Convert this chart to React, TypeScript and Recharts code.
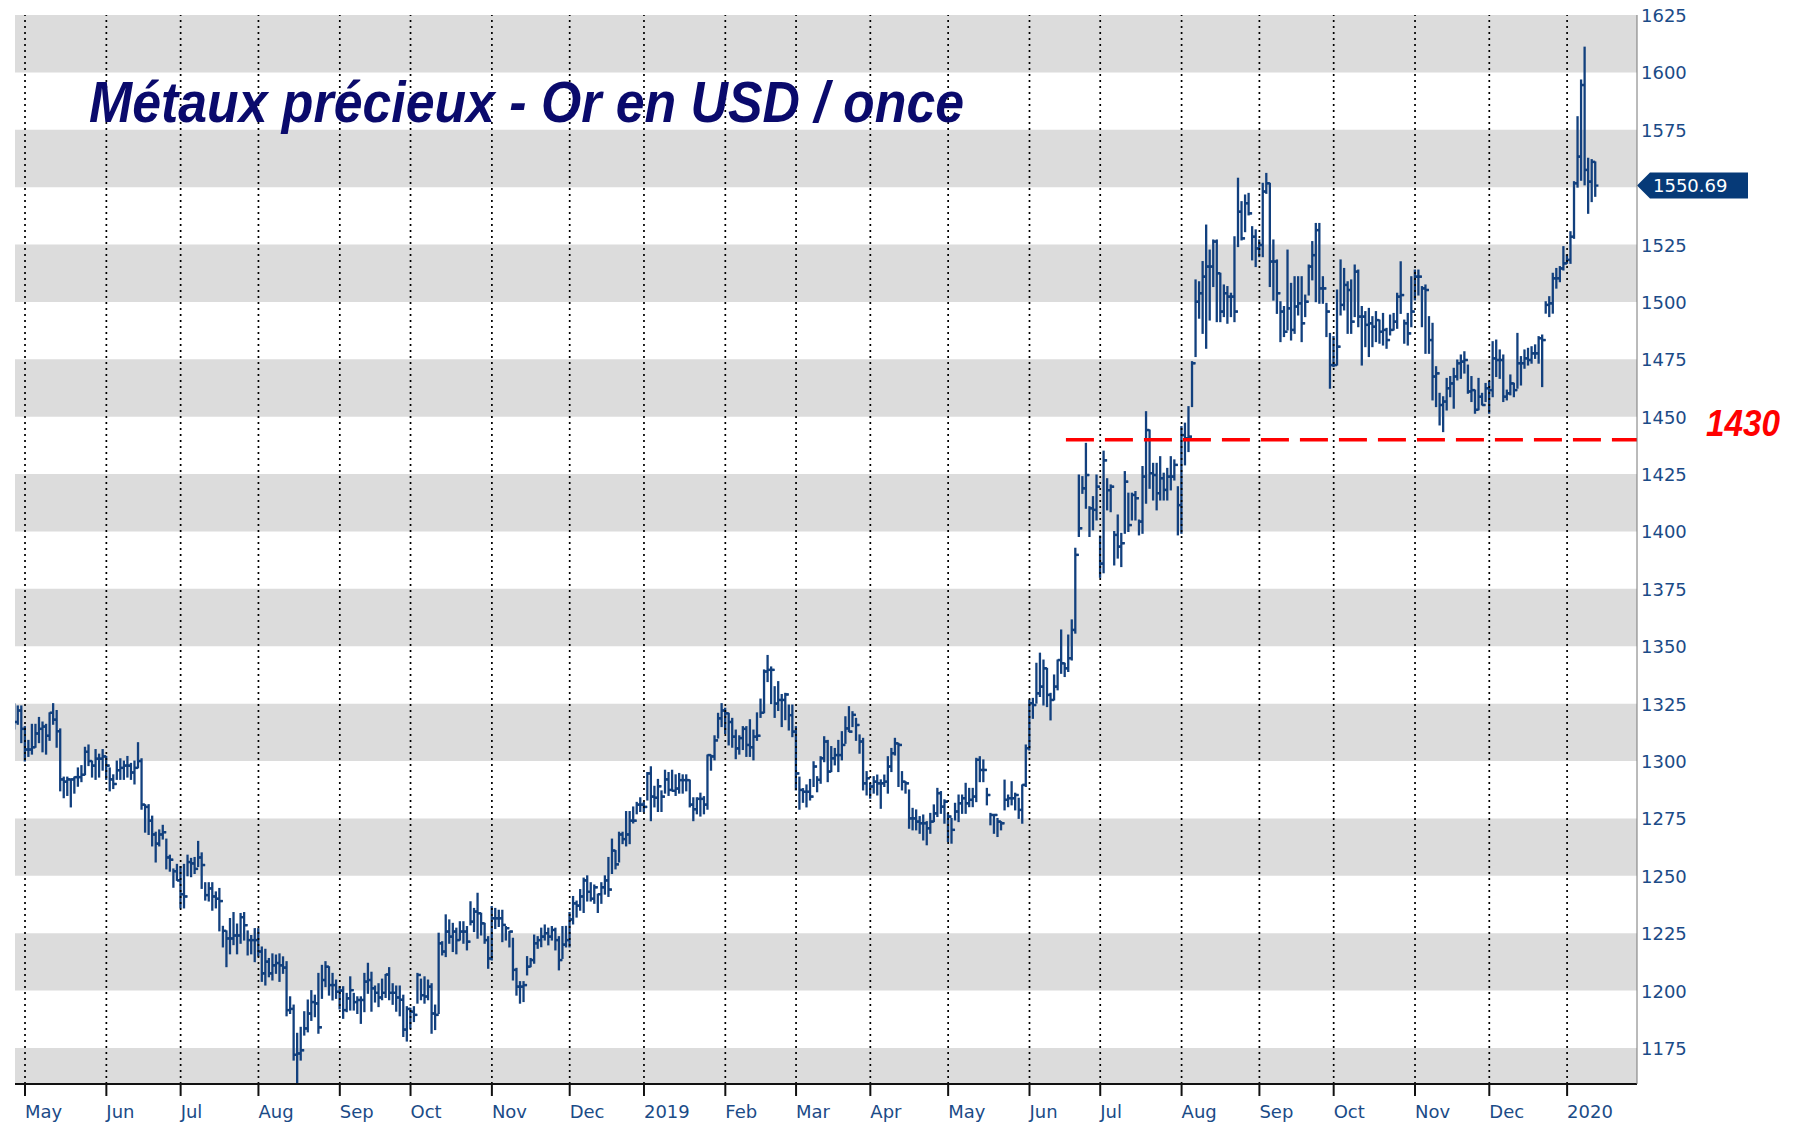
import React from 'react';
import { ComposedChart, Bar, XAxis, YAxis, ReferenceArea, ReferenceLine } from 'recharts';

// one entry per weekday: [low, high, close]
type Day = [number, number, number];

const apr2018: Day[] = [[1314, 1325, 1317], [1316, 1324, 1322], [1308, 1324, 1314]];
const may2018: Day[] = [
  [1300, 1315, 1305], [1302, 1309, 1305], [1303, 1316, 1306], [1306, 1316, 1312], [1308, 1319, 1314],
  [1304, 1317, 1315], [1303, 1316, 1311], [1309, 1321, 1321], [1316, 1325, 1318], [1306, 1322, 1313],
  [1287, 1314, 1292], [1284, 1293, 1291], [1285, 1293, 1292], [1280, 1292, 1292], [1286, 1293, 1293],
  [1289, 1297, 1293], [1291, 1298, 1294], [1294, 1306, 1304], [1298, 1307, 1300], [1293, 1300, 1298],
  [1292, 1305, 1301], [1293, 1303, 1301], [1296, 1305, 1302],
];
const jun2018: Day[] = [
  [1292, 1302, 1298], [1287, 1297, 1292], [1288, 1294, 1290], [1292, 1300, 1296], [1292, 1301, 1297],
  [1292, 1300, 1298], [1293, 1302, 1298], [1292, 1299, 1295], [1290, 1300, 1297], [1297, 1308, 1300],
  [1279, 1301, 1281], [1269, 1281, 1280], [1268, 1281, 1274], [1263, 1276, 1268], [1256, 1269, 1264],
  [1263, 1270, 1268], [1266, 1272, 1269], [1253, 1266, 1258], [1252, 1259, 1257], [1245, 1253, 1252],
  [1248, 1255, 1248],
];
const jul2018: Day[] = [
  [1236, 1254, 1242], [1236, 1255, 1241], [1250, 1259, 1256], [1249.6, 1257.6, 1255.4], [1251, 1258, 1253],
  [1254, 1265, 1258], [1244.5, 1260, 1254.7], [1239.4, 1247, 1241.6], [1239, 1247, 1244.5], [1235, 1247, 1241],
  [1236, 1243, 1240], [1226, 1244.5, 1239], [1219, 1228, 1226], [1210.4, 1226, 1222.7], [1216, 1231.4, 1222.7],
  [1220, 1234, 1224], [1216, 1229, 1224], [1220.6, 1233.6, 1232], [1222, 1234, 1228.5], [1215.5, 1226, 1222],
  [1216, 1224, 1222], [1212.6, 1227, 1222],
];
const aug2018: Day[] = [
  [1215, 1227, 1217], [1204, 1219, 1207.5], [1202.4, 1218, 1212.6], [1206, 1214, 1207.5], [1204.6, 1216, 1211],
  [1207.5, 1215.5, 1212], [1204, 1216, 1211], [1207.5, 1214.7, 1210], [1189, 1212.6, 1191.5], [1190, 1197.3, 1192],
  [1169.7, 1193.7, 1172], [1158, 1181.4, 1172.6], [1169.7, 1184, 1174], [1180.6, 1190.8, 1183.5], [1182, 1195.9, 1190],
  [1187, 1200, 1195], [1188.6, 1198, 1194.4], [1181.4, 1207.5, 1184], [1196.6, 1211, 1204.6], [1201.7, 1212.6, 1210.4],
  [1198, 1210.4, 1202.4], [1195.9, 1207.5, 1202.4], [1196.6, 1204.6, 1199.5],
];
const sep2018: Day[] = [
  [1192, 1201.7, 1200], [1187.9, 1201.7, 1191.5], [1190.8, 1198.8, 1196.6], [1191.5, 1206, 1200.2], [1191.5, 1198.8, 1195],
  [1190, 1197.3, 1195.9], [1185.7, 1197.3, 1195.9], [1190.8, 1207.5, 1203.9], [1198.8, 1211.9, 1204.6], [1191, 1208, 1201],
  [1195, 1202, 1199], [1193, 1203, 1197], [1196, 1205, 1199], [1197, 1207, 1207], [1196, 1210, 1199],
  [1194, 1203, 1199], [1191, 1202, 1197], [1189, 1202, 1196], [1180, 1198, 1183], [1178, 1193, 1192],
];
const oct2018: Day[] = [
  [1183.6, 1192.3, 1190.8], [1186.5, 1193, 1189.4], [1194.5, 1207.5, 1206.8], [1196, 1205, 1198], [1194.5, 1206, 1197.4],
  [1196, 1204.6, 1201.7], [1181.4, 1203, 1190], [1183, 1193.7, 1189.4], [1190, 1225, 1220.6], [1215.5, 1221.3, 1217],
  [1214.8, 1233, 1225.7], [1220.6, 1230.8, 1223.5], [1217, 1229.3, 1225.7], [1216, 1227.2, 1222], [1222, 1230, 1225.7],
  [1220.6, 1230, 1225.7], [1217.7, 1227.9, 1221.3], [1228.6, 1238.7, 1230], [1225.7, 1235.8, 1234.4], [1222.8, 1242.4, 1233.7],
  [1224.2, 1233.7, 1229.3], [1220.6, 1229.3, 1222], [1209.7, 1223.5, 1214],
];
const nov2018: Day[] = [
  [1213.3, 1236.6, 1231.5], [1227, 1235.8, 1231.5], [1227.9, 1235, 1231.5], [1221.3, 1235, 1228.6], [1222, 1227.9, 1227.2],
  [1219, 1225.7, 1225.7], [1204.6, 1222.8, 1209], [1198, 1209.7, 1201.7], [1194.5, 1203.9, 1201.7], [1195.2, 1203.9, 1202.4],
  [1206.8, 1214.8, 1210.4], [1210.4, 1214, 1213.3], [1211.9, 1224.2, 1220.6], [1218.4, 1223.5, 1222], [1219.1, 1227.2, 1223.5],
  [1222, 1228.6, 1225], [1219.9, 1227.2, 1223.5], [1222, 1227.9, 1226.4], [1217.7, 1227.2, 1222], [1209, 1223.5, 1213.3],
  [1214, 1227.9, 1220], [1219, 1228, 1222],
];
const dec2018: Day[] = [
  [1219, 1234, 1231], [1229, 1241, 1238], [1232, 1239, 1237], [1235, 1244, 1241], [1234, 1249, 1248],
  [1239, 1250, 1243], [1239, 1247, 1240], [1238, 1246, 1245], [1234, 1242, 1242], [1238, 1247, 1245],
  [1242, 1250, 1248], [1241, 1258, 1244], [1251, 1266, 1261], [1253, 1261, 1255], [1256, 1269, 1268],
  [1264, 1269, 1266], [1263, 1278, 1268], [1264, 1278, 1274], [1273, 1280, 1274], [1277, 1282, 1281],
  [1278, 1284, 1281],
];
const jan2019: Day[] = [
  [1278, 1282, 1280], [1283, 1295, 1294.6], [1274, 1297.5, 1284.5], [1280, 1289, 1284], [1278, 1292, 1289],
  [1278, 1287, 1284.5], [1286, 1296, 1292], [1285, 1295, 1287.4], [1287, 1296, 1287], [1285, 1294, 1288],
  [1286, 1294.6, 1291.7], [1286, 1294, 1291.7], [1287, 1294, 1291.7], [1280, 1291.7, 1281], [1274, 1284, 1279],
  [1277, 1284, 1283.5], [1276, 1286, 1283.5], [1277, 1284.5, 1281], [1279, 1302.6, 1302.6], [1296, 1302.6, 1302],
  [1300.5, 1311, 1309], [1310, 1320.8, 1318.6], [1315, 1325, 1322],
];
const feb2019: Day[] = [
  [1312, 1323, 1320.8], [1307, 1320.8, 1317], [1306, 1318.6, 1310.6], [1301, 1313.5, 1305.5], [1303, 1311, 1310],
  [1305, 1315, 1314], [1302, 1315, 1307], [1302, 1318, 1306], [1300.5, 1313.5, 1310.6], [1309, 1321, 1311],
  [1319, 1327, 1321], [1321, 1339.7, 1339], [1334.6, 1346, 1339.7], [1325, 1341, 1339.7], [1319, 1332.4, 1325],
  [1322, 1334.6, 1326.6], [1315, 1329, 1326.6], [1318, 1329.5, 1329], [1313.5, 1324.4, 1320], [1310.6, 1324.4, 1312.8],
];
const mar2019: Day[] = [
  [1287.4, 1315, 1294.6], [1279, 1293, 1287.4], [1282, 1288, 1286.6], [1280, 1289.6, 1286.6], [1283, 1292, 1284.5],
  [1288.9, 1299.7, 1297.6], [1286.6, 1293.2, 1291.8], [1290.3, 1301.9, 1301.2], [1299.7, 1310.6, 1308.5], [1291, 1309, 1295.4],
  [1295.4, 1306.3, 1301.2], [1298.3, 1305.5, 1302.6], [1295.4, 1309, 1302.6], [1300.5, 1312.8, 1307], [1307.7, 1319.3, 1314.2],
  [1312.8, 1323.7, 1312.8], [1315, 1321.5, 1320.1], [1309, 1318.6, 1315.7], [1303.4, 1311.4, 1308.5], [1287.4, 1309.9, 1290.3],
  [1285.2, 1295.4, 1292.5],
];
const apr2019: Day[] = [
  [1283.8, 1290.3, 1288.9], [1286, 1293.2, 1291], [1285.2, 1293.9, 1290.3], [1279.4, 1291.8, 1290.3], [1288.9, 1293.9, 1291],
  [1286, 1301.9, 1297.6], [1295.4, 1305.5, 1303.4], [1302.6, 1309.9, 1307.7], [1288.9, 1307.7, 1307], [1287.4, 1295.4, 1291],
  [1286, 1291, 1290.3], [1270.7, 1287.4, 1275], [1270, 1279.4, 1275], [1270, 1278.7, 1273.6], [1268.5, 1275.8, 1272.9],
  [1265.6, 1276.5, 1272.9], [1263.5, 1273.6, 1270.7], [1268.5, 1277.2, 1273.6], [1273.6, 1280.9, 1277.2], [1275.8, 1288.1, 1286],
  [1277.2, 1286.7, 1280.1], [1272.9, 1283.1, 1282.3],
];
const may2019: Day[] = [
  [1264.9, 1277.2, 1275.8], [1264.2, 1275, 1270], [1274.3, 1281.6, 1278], [1273.6, 1285.2, 1281.6], [1277.2, 1285.2, 1283.8],
  [1277.2, 1290.3, 1281.6], [1280.1, 1288.1, 1283.1], [1280.1, 1288.1, 1284.5], [1282.3, 1301.2, 1300.5], [1291, 1301.9, 1296.1],
  [1291, 1300.5, 1296.1], [1280.9, 1288.1, 1285.2], [1272.2, 1277.2, 1276.5], [1268.5, 1276.5, 1276.5], [1267.1, 1275, 1273.6],
  [1270, 1273.6, 1272.9], [1278.7, 1291.7, 1283.1], [1280.1, 1285.2, 1283.8], [1280.9, 1291, 1283.8], [1278.7, 1286, 1285.2],
  [1275, 1283.8, 1278.7], [1272.9, 1289.6, 1289.6], [1288.9, 1307, 1305.6],
];
const jun2019: Day[] = [
  [1304.8, 1326.6, 1325.2], [1318.6, 1327.3, 1324.4], [1325.2, 1342.6, 1329.5], [1328.1, 1347, 1332.4], [1324.4, 1344, 1340.4],
  [1323.7, 1340.4, 1328.8], [1317.9, 1329.5, 1326.6], [1326.6, 1337.5, 1332.4], [1331, 1344, 1344], [1338.2, 1357.1, 1342.6],
  [1336.8, 1342.6, 1340.4], [1339, 1354.9, 1344.8], [1344, 1361.5, 1357.1], [1355.7, 1392.7, 1389.8], [1397.8, 1424.6, 1401.4],
  [1416.6, 1423.9, 1418.8], [1410.1, 1438.4, 1424.6], [1397.8, 1410.8, 1410.1], [1400.7, 1415.2, 1409.4], [1405, 1424.6, 1419.5],
];
const jul2019: Day[] = [
  [1380, 1398, 1386], [1382, 1435, 1431], [1409.4, 1423, 1418], [1408.6, 1420.3, 1419.5], [1385.4, 1400, 1398.5],
  [1388.4, 1407.2, 1393.4], [1384.7, 1399.2, 1394.9], [1399.2, 1426.1, 1421.7], [1400, 1416.7, 1402.8], [1405, 1416.7, 1415.9],
  [1405, 1417.4, 1414.5], [1398.5, 1405, 1404.3], [1399.2, 1428.3, 1423.9], [1412.3, 1452.2, 1444.2], [1418.8, 1444.2, 1425.4],
  [1413.7, 1429.7, 1424.6], [1409.4, 1429.7, 1416.7], [1413.7, 1432.6, 1423.2], [1413.7, 1425.4, 1418.1], [1413.7, 1427.5, 1423.9],
  [1418.1, 1432.6, 1423.9], [1422.4, 1431.2, 1429], [1398.5, 1419.5, 1411.5],
];
const aug2019: Day[] = [
  [1399.2, 1445.7, 1442], [1429, 1447.2, 1440.6], [1434.8, 1454.4, 1441.3], [1454.4, 1474, 1473.3], [1476.2, 1509.6, 1500.1],
  [1492.9, 1508.8, 1503.8], [1486.3, 1517.6, 1511], [1479.8, 1533.5, 1515.4], [1492.1, 1522.6, 1515.4], [1506.7, 1527, 1526.3],
  [1491.4, 1527, 1512.5], [1491.4, 1512.5, 1495.8], [1493.6, 1507.4, 1503.8], [1490.7, 1506.7, 1502.3], [1493.6, 1503.8, 1502.3],
  [1491.4, 1528.4, 1495.8], [1524.1, 1553.9, 1539.3], [1527, 1543.7, 1527.7], [1530.6, 1546.6, 1543], [1537.9, 1547.3, 1538.6],
  [1518.3, 1532.8, 1528.4], [1515.4, 1531.4, 1523.3],
];
const sep2019: Day[] = [
  [1519.7, 1527, 1524.8], [1519.7, 1551.7, 1548.1], [1547.3, 1556, 1551.7], [1506.7, 1551.7, 1517.6], [1500.8, 1527, 1517.6],
  [1495, 1518.3, 1503.8], [1482.7, 1500.1, 1495.8], [1484.9, 1498, 1487], [1487.8, 1522.6, 1497.2], [1483.4, 1508.1, 1487.8],
  [1486.3, 1511, 1498], [1494.3, 1511, 1499.4], [1482.7, 1511, 1490.7], [1493.6, 1503, 1500.1], [1503, 1516.1, 1515.4],
  [1509.6, 1526.3, 1520.4], [1500.1, 1534.2, 1531.3], [1499.4, 1534.2, 1505.9], [1499.4, 1511, 1505.9], [1484.9, 1499.4, 1495.8],
  [1462.4, 1486.3, 1472.5],
];
const oct2019: Day[] = [
  [1471.8, 1484.9, 1472.5], [1472.5, 1505.2, 1480.5], [1494.3, 1518.3, 1498.7], [1496.5, 1514.6, 1507.4], [1486.3, 1508.8, 1505.2],
  [1486.3, 1509.6, 1491.4], [1493.6, 1516.1, 1513.2], [1489.2, 1513.9, 1493.6], [1472.5, 1498, 1493.6], [1480.5, 1495.8, 1490],
  [1476.2, 1497.2, 1490.7], [1480.5, 1493.6, 1489.2], [1482.7, 1495.8, 1492.1], [1482, 1492.1, 1487], [1481.2, 1495, 1487.8],
  [1479.8, 1488.5, 1483.4], [1485.6, 1494.3, 1487.8], [1487.8, 1495, 1491.4], [1488.5, 1503.8, 1502.3], [1495, 1517.5, 1503],
  [1482, 1492.1, 1490.7], [1481.2, 1495, 1486.3], [1489.2, 1511, 1495.8],
];
const nov2019: Day[] = [
  [1500.9, 1513.9, 1511], [1503, 1513.9, 1511], [1489.2, 1506.7, 1505.9], [1477.6, 1507.4, 1505.2], [1477.6, 1493.6, 1483.4],
  [1457.3, 1490.7, 1467.5], [1454.4, 1471.8, 1468.9], [1446.4, 1460.2, 1455.1], [1443.5, 1458.7, 1456.6], [1452.9, 1466.7, 1462.4],
  [1458.7, 1467.5, 1464.5], [1453.7, 1471.1, 1467.5], [1466, 1474.7, 1473.3], [1466.7, 1476.9, 1474], [1469, 1478.3, 1474.7],
  [1460.2, 1472.5, 1461], [1456.6, 1467.5, 1461.6], [1451.5, 1461.6, 1453], [1453, 1466.7, 1458.7], [1455.1, 1460.2, 1455.1],
  [1456.6, 1464.5, 1462.4],
];
const dec2019: Day[] = [
  [1451.5, 1465.3, 1461.6], [1458.7, 1482.7, 1475.4], [1467.5, 1483.4, 1474.7], [1466.7, 1479.1, 1474.7], [1456.6, 1476.9, 1458.7],
  [1457.3, 1461.6, 1460.2], [1459.5, 1468.2, 1464.5], [1458.7, 1464.6, 1461.6], [1462.4, 1486.3, 1473.3], [1463.8, 1476.2, 1473.3],
  [1471.1, 1479.1, 1475.4], [1472.5, 1479.8, 1474.7], [1473.3, 1480.5, 1477.6], [1475.4, 1481.3, 1477.6], [1473.3, 1484.9, 1484.2],
  [1463.1, 1485.6, 1483.4], [1495.1, 1500.1, 1498.7], [1493.6, 1502.3, 1499.4], [1495.1, 1512.5, 1510.3], [1506, 1514.6, 1510.3],
  [1508.8, 1515.4, 1514.6], [1513.9, 1524.1, 1516.8],
];
const jan2020: Day[] = [
  [1516.8, 1520.5, 1518.3], [1516.8, 1530.6, 1528.4], [1527.7, 1552.4, 1551.7], [1550, 1580.7, 1563.3], [1553, 1596.7, 1594.5],
  [1551, 1611, 1557.5], [1538.6, 1562.6, 1552.4], [1543.7, 1562, 1561], [1546, 1561, 1550.69],
];

const months = [
  apr2018, may2018, jun2018, jul2018, aug2018, sep2018, oct2018, nov2018, dec2018,
  jan2019, feb2019, mar2019, apr2019, may2019, jun2019, jul2019, aug2019, sep2019, oct2019, nov2019, dec2019,
  jan2020,
];
const firstDay = -3; // weekday index of the first bar (1 May 2018 = 0)

// weekday index of the first weekday of each month
const monthTicks = [0, 23, 44, 66, 89, 109, 132, 154, 175, 198, 218, 239, 261, 284, 304, 327, 349, 370, 393, 414, 436];
const monthLabels = ['May', 'Jun', 'Jul', 'Aug', 'Sep', 'Oct', 'Nov', 'Dec', '2019', 'Feb', 'Mar', 'Apr', 'May', 'Jun', 'Jul', 'Aug', 'Sep', 'Oct', 'Nov', 'Dec', '2020'];
// 1550 sits under the last-price tag, so it is not labelled
const priceTicks = [1175, 1200, 1225, 1250, 1275, 1300, 1325, 1350, 1375, 1400, 1425, 1450, 1475, 1500, 1525, 1575, 1600, 1625];
const grayBands = [1150, 1200, 1250, 1300, 1350, 1400, 1450, 1500, 1550, 1600];
const lastClose = 1550.69;
const supportPrice = 1440;
const supportLabel = '1430';
const supportFrom = 294.3;

const xDomain: [number, number] = [-2.83, 455.76];
const yDomain: [number, number] = [1159.3, 1625];

const BAR = '#12407e';
const AXIS_TEXT = '#1b4b87';
const FONT = '"DejaVu Sans", Verdana, sans-serif';

const allDays = months.flat();
const rows = allDays.map(([low, high, close], k) => ({
  i: firstDay + k,
  range: [low, high],
  low,
  high,
  close,
  open: k > 0 ? allDays[k - 1][2] : close,
}));

const OhlcBar = (props: any) => {
  const { x, y, width, height, payload } = props;
  if (x == null || y == null || !payload) return null;
  const cx = x + width / 2;
  const span = payload.high - payload.low || 1;
  const py = (v: number) => y + ((payload.high - v) / span) * height;
  return (
    <g stroke={BAR} strokeWidth={2.3}>
      <line x1={cx} x2={cx} y1={y - 0.5} y2={y + height + 0.5} />
      <line x1={cx - 3.2} x2={cx} y1={py(payload.open)} y2={py(payload.open)} />
      <line x1={cx} x2={cx + 3.2} y1={py(payload.close)} y2={py(payload.close)} />
    </g>
  );
};

const MonthTick = (props: any) => {
  const { x, y, payload } = props;
  const label = monthLabels[monthTicks.indexOf(payload.value)];
  return (
    <text x={x} y={y + 22} fill={AXIS_TEXT} fontSize={18} fontFamily={FONT} textAnchor="start">
      {label}
    </text>
  );
};

const PriceTick = (props: any) => {
  const { x, y, payload } = props;
  return (
    <text x={x} y={y + 7} fill={AXIS_TEXT} fontSize={18} fontFamily={FONT} textAnchor="start">
      {payload.value}
    </text>
  );
};

const PriceTag = (props: any) => {
  const vb = props.viewBox || {};
  const ax = (vb.x ?? 0) + (vb.width ?? 0);
  const cy = vb.y ?? 0;
  return (
    <g>
      <polygon
        points={`${ax},${cy} ${ax + 13},${cy - 13} ${ax + 111},${cy - 13} ${ax + 111},${cy + 13} ${ax + 13},${cy + 13}`}
        fill="#063a78"
      />
      <text x={ax + 16} y={cy + 6.5} fill="#fff" fontSize={18} fontFamily={FONT}>
        {lastClose.toFixed(2)}
      </text>
    </g>
  );
};

const SupportTag = (props: any) => {
  const vb = props.viewBox || {};
  const x = (vb.x ?? 0) + (vb.width ?? 0) + 69;
  const y = (vb.y ?? 0) - 4;
  return (
    <text x={x} y={y} fill="#f00" fontSize={37} fontWeight="bold" fontStyle="italic"
      fontFamily='"Liberation Sans", Arial, sans-serif' textLength={74} lengthAdjust="spacingAndGlyphs">
      {supportLabel}
    </text>
  );
};

export default function App() {
  return (
    <div style={{ position: 'absolute', left: 0, top: 0, width: 1796, height: 1125, background: '#fff' }}>
      <ComposedChart width={1796} height={1125} data={rows} margin={{ top: 15, right: 0, bottom: 0, left: 15 }}>
        <XAxis
          type="number"
          dataKey="i"
          domain={xDomain}
          allowDataOverflow
          ticks={monthTicks}
          interval={0}
          height={41}
          tick={<MonthTick />}
          tickSize={12}
          tickMargin={0}
          axisLine={{ stroke: '#111', strokeWidth: 2 }}
          tickLine={{ stroke: '#111', strokeWidth: 2 }}
        />
        <YAxis
          orientation="right"
          type="number"
          domain={yDomain}
          allowDataOverflow
          ticks={priceTicks}
          interval={0}
          width={159}
          tick={<PriceTick />}
          tickSize={0}
          tickMargin={4}
          tickLine={false}
          axisLine={{ stroke: '#777', strokeWidth: 1 }}
        />
        {grayBands.map((b) => (
          <ReferenceArea key={b} y1={Math.max(b, yDomain[0])} y2={b + 25} fill="#dcdcdc" fillOpacity={1} stroke="none" />
        ))}
        {monthTicks.map((t) => (
          <ReferenceLine key={t} x={t} stroke="#000" strokeWidth={1.7} strokeDasharray="2 4" />
        ))}
        <Bar dataKey="range" barSize={7} shape={<OhlcBar />} isAnimationActive={false} />
        <ReferenceLine
          segment={[{ x: supportFrom, y: supportPrice }, { x: xDomain[1], y: supportPrice }]}
          stroke="#f00"
          strokeWidth={3.5}
          strokeDasharray="28 11"
          label={<SupportTag />}
        />
        <ReferenceLine y={lastClose} stroke="none" label={<PriceTag />} />
      </ComposedChart>
      <svg width={1796} height={1125} style={{ position: 'absolute', left: 0, top: 0, pointerEvents: 'none' }}>
        <text x={89} y={122} fill="#0a0a6c" fontSize={58} fontWeight="bold" fontStyle="italic"
          fontFamily='"Liberation Sans", Arial, sans-serif' textLength={875} lengthAdjust="spacingAndGlyphs">
          Métaux précieux - Or en USD / once
        </text>
      </svg>
    </div>
  );
}
